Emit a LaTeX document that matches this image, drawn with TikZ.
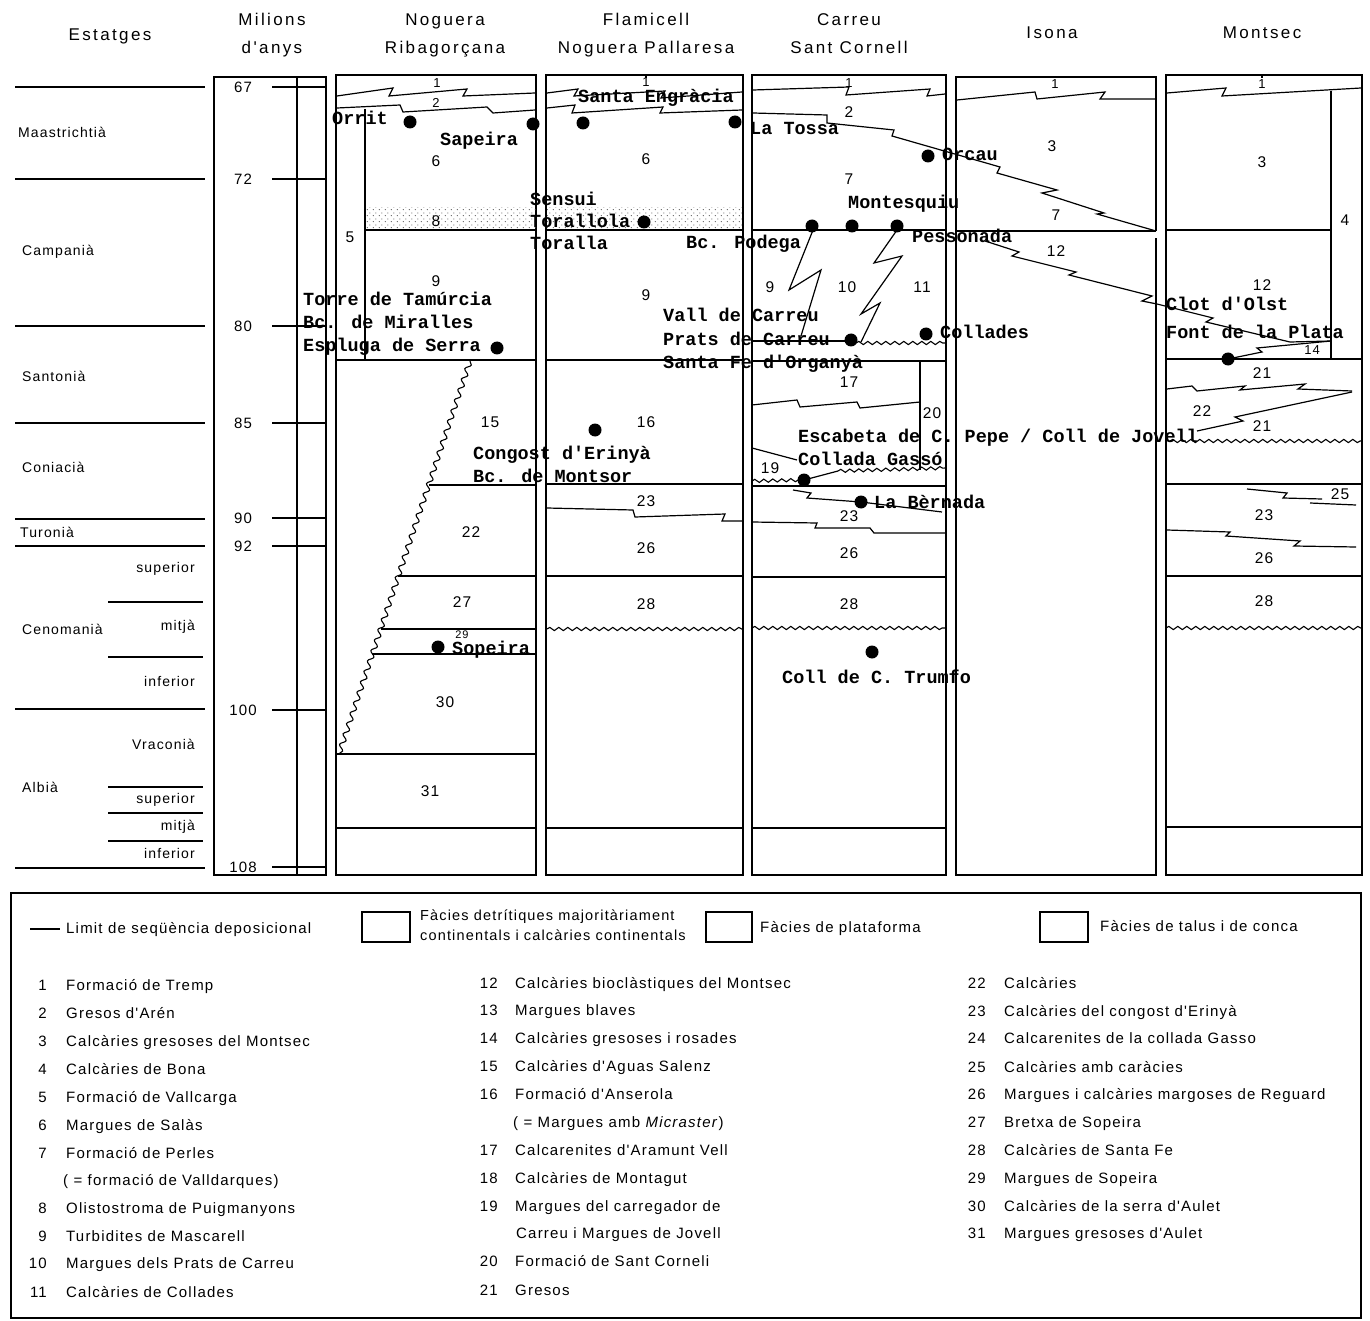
\documentclass[tikz,border=0pt]{standalone}
\usepackage{fontspec}
\setmainfont{Liberation Sans}
\newfontfamily\spc{Liberation Sans}[LetterSpace=8]
\newfontfamily\hsp{Liberation Sans}[LetterSpace=14]
\newfontfamily\mono{Liberation Mono}
\usetikzlibrary{patterns,decorations.pathmorphing}
\pgfdeclarepatternformonly{sdots}{\pgfpointorigin}{\pgfqpoint{6pt}{6pt}}{\pgfqpoint{6pt}{6pt}}{%
  \pgfpathcircle{\pgfqpoint{1.5pt}{1.5pt}}{0.65pt}%
  \pgfpathcircle{\pgfqpoint{4.5pt}{4.5pt}}{0.65pt}%
  \pgfusepath{fill}}
\tikzset{
  ln/.style={line width=1.2pt},
  bx/.style={line width=1.4pt},
  wavy/.style={line width=1.1pt, decorate, decoration={snake, segment length=9pt, amplitude=1.6pt}},
  bigwavy/.style={line width=1.1pt, decorate, decoration={snake, segment length=11pt, amplitude=2.5pt}},
  hdr/.style={font=\hsp\fontsize{17}{20}\selectfont, inner sep=0, text height=12pt, text depth=4pt},
  stg/.style={font=\spc\fontsize{14}{16}\selectfont, inner sep=0, text height=10pt, text depth=3pt},
  ma/.style={font=\spc\fontsize{15}{17}\selectfont, inner sep=0, text height=11pt, text depth=0pt},
  num/.style={font=\spc\fontsize{15.5}{17}\selectfont, inner sep=0, text height=11pt, text depth=0pt},
  snum/.style={font=\spc\fontsize{13}{14}\selectfont, inner sep=0, text height=9pt, text depth=0pt},
  tnum/.style={font=\spc\fontsize{11}{12}\selectfont, inner sep=0, text height=8pt, text depth=0pt},
  place/.style={font=\mono\bfseries\fontsize{18.5}{20}\selectfont, anchor=west, inner sep=0, text height=11pt, text depth=3pt},
  site/.style={circle, fill=black, inner sep=0, minimum size=13pt},
  leg/.style={font=\spc\fontsize{15}{17}\selectfont, anchor=west, inner sep=0, text height=11pt, text depth=3pt},
  legn/.style={leg, anchor=east},
  legs/.style={font=\spc\fontsize{14.5}{16}\selectfont, anchor=west, inner sep=0, text height=10pt, text depth=3pt},
}
\begin{document}
\begin{tikzpicture}[x=1pt,y=-1pt]
\useasboundingbox (0,0) rectangle (1370,1321);

% ---------------- headers
\node[hdr] (hEst) at (110,37) {Estatges};
\node[hdr] (hMa1) at (272,22) {Milions};
\node[hdr] (hMa2) at (272,50) {d'anys};
\node[hdr] (hNR1) at (445,22) {Noguera};
\node[hdr] (hNR2) at (445,50) {Ribagorçana};
\node[hdr] (hFl1) at (646,22) {Flamicell};
\node[hdr] (hFl2) at (646,50) {Noguera Pallaresa};
\node[hdr] (hCa1) at (849,22) {Carreu};
\node[hdr] (hCa2) at (849,50) {Sant Cornell};
\node[hdr] (hIs) at (1052,35) {Isona};
\node[hdr] (hMo) at (1262,35) {Montsec};

% ---------------- stages
\foreach \y in {87,179,326,423,519,546,709,868} \draw[ln] (15,\y) -- (205,\y);
\foreach \y in {602,657,787,813,841} \draw[ln] (108,\y) -- (203,\y);
\node[stg, anchor=west] (stA) at (18,134) {Maastrichtià};
\node[stg, anchor=west] (stB) at (22,252) {Campanià};
\node[stg, anchor=west] (stC) at (22,378) {Santonià};
\node[stg, anchor=west] (stD) at (22,469) {Coniacià};
\node[stg, anchor=west] (stE) at (20,534) {Turonià};
\node[stg, anchor=west] (stF) at (22,631) {Cenomanià};
\node[stg, anchor=west] (stG) at (22,789) {Albià};
\node[stg, anchor=east] (stH) at (195,569) {superior};
\node[stg, anchor=east] (stI) at (195,627) {mitjà};
\node[stg, anchor=east] (stJ) at (195,683) {inferior};
\node[stg, anchor=east] (stK) at (195,746) {Vraconià};
\node[stg, anchor=east] (stL) at (195,800) {superior};
\node[stg, anchor=east] (stM) at (195,827) {mitjà};
\node[stg, anchor=east] (stN) at (195,855) {inferior};

% ---------------- millions
\draw[bx] (214,77) rectangle (326,875);
\draw[ln] (297,77) -- (297,875);
\foreach \v/\y [count=\i] in {67/87,72/179,80/326,85/423,90/518,92/546,100/710,108/867}{
  \draw[ln] (272,\y) -- (326,\y);
  \node[ma] (ma\i) at (243,\y) {\v};
}

% ---------------- column boxes
\draw[bx] (336,75) rectangle (536,875);
\draw[bx] (546,75) rectangle (743,875);
\draw[bx] (752,75) rectangle (946,875);
\draw[bx] (1156,231) -- (1156,77) -- (956,77) -- (956,875) -- (1156,875) -- (1156,238);
\draw[bx] (1166,75) rectangle (1362,875);

% stipple (8)
\fill[pattern=sdots, pattern color=black!75] (365,208) rectangle (536,230);
\fill[pattern=sdots, pattern color=black!75] (547,208) rectangle (742,230);

% ---------------- Noguera Ribagorçana
\draw[ln] (337,96) -- (393,88) -- (389,96) -- (467,89) -- (463,96) -- (535,93);
\draw[ln] (337,108) -- (400,105) -- (403,112) -- (487,107) -- (493,113) -- (535,110);
\draw[ln] (365,109) -- (365,360);
\draw[ln] (365,230) -- (536,230);
\draw[ln] (336,360) -- (536,360);
\draw[bigwavy] (470,361) -- (339,754);
\draw[ln] (429,485) -- (536,485);
\draw[ln] (398,576) -- (536,576);
\draw[ln] (381,629) -- (536,629);
\draw[ln] (372,654) -- (536,654);
\draw[ln] (336,754) -- (536,754);
\draw[ln] (336,828) -- (536,828);

% ---------------- Flamicell
\draw[ln] (646,75) -- (646,78);
\draw[ln] (547,93) -- (578,89) -- (574,96) -- (665,91) -- (661,98) -- (742,92);
\draw[ln] (547,108) -- (575,105) -- (572,113) -- (663,107) -- (660,113) -- (742,110);
\draw[ln] (547,230) -- (742,230);
\draw[ln] (547,360) -- (742,360);
\draw[ln] (547,484) -- (742,484);
\draw[ln] (547,508) -- (633,510) -- (635,517) -- (725,514) -- (722,521) -- (742,521);
\draw[ln] (547,576) -- (742,576);
\draw[wavy] (547,629) -- (742,629);
\draw[ln] (547,828) -- (742,828);

% ---------------- Carreu
\draw[ln] (753,90) -- (849,87) -- (846,95) -- (930,89) -- (927,96) -- (945,94);
\draw[ln] (753,113) -- (827,115) -- (827,123) -- (894,130) -- (892,136) -- (1000,167) -- (997,173) -- (1057,190) -- (1042,193) -- (1104,213) -- (1097,214) -- (1156,231);
\draw[ln] (752,230) -- (946,230);
\draw[ln] (813,230) -- (789,290) -- (821,270) -- (801,336);
\draw[ln] (897,230) -- (874,263) -- (902,256) -- (861,314) -- (880,303) -- (861,342);
\draw[ln] (752,341) -- (852,341);
\draw[wavy] (856,343) -- (946,343);
\draw[ln] (752,361) -- (946,361);
\draw[ln] (920,361) -- (920,470);
\draw[ln] (752,405) -- (797,400) -- (800,407) -- (857,402) -- (860,408) -- (920,402);
\draw[ln] (752,448) -- (797,460);
\draw[ln] (804,480) -- (838,471);
\draw[wavy] (838,471) -- (946,468);
\draw[wavy] (752,481) -- (800,480);
\draw[ln] (752,486) -- (946,486);
\draw[ln] (793,490) -- (811,493) -- (807,498) -- (861,502) -- (942,512);
\draw[ln] (752,522) -- (817,523) -- (815,528) -- (870,528) -- (874,533) -- (946,533);
\draw[ln] (752,577) -- (946,577);
\draw[wavy] (752,628) -- (946,628);
\draw[ln] (752,828) -- (946,828);

% ---------------- Isona
\draw[ln] (957,100) -- (1035,92) -- (1037,99) -- (1105,92) -- (1100,99) -- (1155,99);
\draw[ln] (957,231) -- (1156,231);
\draw[ln] (985,241) -- (1019,252) -- (1012,256) -- (1076,272) -- (1069,275) -- (1152,296) -- (1142,301) -- (1157,304) -- (1213,318) -- (1206,322) -- (1290,342) -- (1331,341);

% ---------------- Montsec
\draw[ln] (1262,75) -- (1262,78);
\draw[ln] (1167,93) -- (1226,88) -- (1222,96) -- (1361,88);
\draw[ln] (1331,91) -- (1331,359);
\draw[ln] (1166,230) -- (1331,230);
\draw[ln] (1228,359) -- (1262,352) -- (1257,348) -- (1331,341);
\draw[ln] (1166,359) -- (1362,359);
\draw[ln] (1167,389) -- (1192,386) -- (1197,391) -- (1245,386) -- (1240,390) -- (1305,384) -- (1298,389) -- (1352,391);
\draw[ln] (1197,431) -- (1243,421) -- (1235,417) -- (1352,392);
\draw[wavy] (1170,441) -- (1362,441);
\draw[ln] (1166,484) -- (1362,484);
\draw[ln] (1247,489) -- (1287,493) -- (1283,498) -- (1322,499);
\draw[ln] (1310,503) -- (1356,505);
\draw[ln] (1167,530) -- (1230,532) -- (1226,536) -- (1300,541) -- (1294,546) -- (1356,547);
\draw[ln] (1166,576) -- (1362,576);
\draw[wavy] (1166,628) -- (1362,628);
\draw[ln] (1166,827) -- (1362,827);

% ---------------- unit numbers
\node[snum] (nA1) at (437,83) {1};
\node[snum] (nA2) at (436,103) {2};
\node[num] (nA6) at (436,161) {6};
\node[num] (nA8) at (436,221) {8};
\node[num] (nA5) at (350,237) {5};
\node[num] (nA9) at (436,281) {9};
\node[num] (nA15) at (490,422) {15};
\node[num] (nA22) at (471,532) {22};
\node[num] (nA27) at (462,602) {27};
\node[tnum] (nA29) at (462,634) {29};
\node[num] (nA30) at (445,702) {30};
\node[num] (nA31) at (430,791) {31};
\node[snum] (nB1) at (646,82) {1};
\node[num] (nB6) at (646,159) {6};
\node[num] (nB9) at (646,295) {9};
\node[num] (nB16) at (646,422) {16};
\node[num] (nB23) at (646,501) {23};
\node[num] (nB26) at (646,548) {26};
\node[num] (nB28) at (646,604) {28};
\node[snum] (nC1) at (849,83) {1};
\node[num] (nC2) at (849,112) {2};
\node[num] (nC7) at (849,179) {7};
\node[num] (nC9) at (770,287) {9};
\node[num] (nC10) at (847,287) {10};
\node[num] (nC11) at (922,287) {11};
\node[num] (nC17) at (849,382) {17};
\node[num] (nC20) at (932,413) {20};
\node[num] (nC19) at (770,468) {19};
\node[num] (nC23) at (849,516) {23};
\node[num] (nC26) at (849,553) {26};
\node[num] (nC28) at (849,604) {28};
\node[snum] (nD1) at (1055,84) {1};
\node[num] (nD3) at (1052,146) {3};
\node[num] (nD7) at (1056,215) {7};
\node[num] (nD12) at (1056,251) {12};
\node[snum] (nE1) at (1262,84) {1};
\node[num] (nE3) at (1262,162) {3};
\node[num] (nE4) at (1345,220) {4};
\node[num] (nE12) at (1262,285) {12};
\node[snum] (nE14) at (1312,350) {14};
\node[num] (nE21a) at (1262,373) {21};
\node[num] (nE22) at (1202,411) {22};
\node[num] (nE21b) at (1262,426) {21};
\node[num] (nE25) at (1340,494) {25};
\node[num] (nE23) at (1264,515) {23};
\node[num] (nE26) at (1264,558) {26};
\node[num] (nE28) at (1264,601) {28};

% ---------------- localities
\foreach \px/\py [count=\i] in {410/122,533/124,497/348,438/647,583/123,735/122,644/222,595/430,928/156,812/226,852/226,897/226,851/340,926/334,804/480,861/502,872/652,1228/359}
  \node[site] (site\i) at (\px,\py) {};
\node[place] (pOrrit) at (332,121) {Orrit};
\node[place] (pSapeira) at (440,142) {Sapeira};
\node[place] (pTorre) at (303,302) {Torre de Tamúrcia};
\node[place] (pMiral) at (303,325) {Bc. de Miralles};
\node[place] (pEspl) at (303,348) {Espluga de Serra};
\node[place] (pSopeira) at (452,650) {Sopeira};
\node[place] (pSEng) at (578,99) {Santa Engràcia};
\node[place] (pSensui) at (530,202) {Sensui};
\node[place] (pToral) at (530,224) {Torallola};
\node[place] (pToralla) at (530,246) {Toralla};
\node[place] (pPodega) at (686,245) {Bc. Podega};
\node[place] (pVall) at (663,318) {Vall de Carreu};
\node[place] (pPrats) at (663,341) {Prats de Carreu};
\node[place] (pSFe) at (663,364) {Santa Fe d'Organyà};
\node[place] (pCong) at (473,455) {Congost d'Erinyà};
\node[place] (pMonts) at (473,478) {Bc. de Montsor};
\node[place] (pTossa) at (750,131) {La Tossa};
\node[place] (pOrcau) at (942,157) {Orcau};
\node[place] (pMontq) at (848,205) {Montesquiu};
\node[place] (pPess) at (912,239) {Pessonada};
\node[place] (pColl) at (940,335) {Collades};
\node[place] (pEsca) at (798,438) {Escabeta de C. Pepe / Coll de Jovell};
\node[place] (pGasso) at (798,461) {Collada Gassó};
\node[place] (pBern) at (874,504) {La Bèrnada};
\node[place] (pTrumfo) at (782,679) {Coll de C. Trumfo};
\node[place] (pClot) at (1166,307) {Clot d'Olst};
\node[place] (pFont) at (1166,334) {Font de la Plata};

% ---------------- legend
\draw[bx] (11,893) rectangle (1361,1318);
\draw[ln] (30,929) -- (60,929);
\node[leg] (lgA) at (66,929) {Limit de seqüència deposicional};
\draw[ln] (362,912) rectangle (410,942);
\node[legs] (lgB1) at (420,917) {Fàcies detrítiques majoritàriament};
\node[legs] (lgB2) at (420,937) {continentals i calcàries continentals};
\draw[ln] (706,912) rectangle (752,942);
\node[leg] (lgC) at (760,928) {Fàcies de plataforma};
\draw[ln] (1040,912) rectangle (1088,942);
\node[leg] (lgD) at (1100,927) {Fàcies de talus i de conca};

\foreach \n/\t/\y [count=\i] in {1/Formació de Tremp/986, 2/Gresos d'Arén/1014, 3/Calcàries gresoses del Montsec/1042, 4/Calcàries de Bona/1070, 5/Formació de Vallcarga/1098, 6/Margues de Salàs/1126, 7/Formació de Perles/1154, 8/Olistostroma de Puigmanyons/1209, 9/Turbidites de Mascarell/1237, 10/Margues dels Prats de Carreu/1264, 11/Calcàries de Collades/1293}
  {\node[legn] (lgna\i) at (47,\y) {\n}; \node[leg] (lgta\i) at (66,\y) {\t};}
\node[leg] (lgta7b) at (63,1181) {( = formació de Valldarques)};

\foreach \n/\t/\y [count=\i] in {12/Calcàries bioclàstiques del Montsec/984, 13/Margues blaves/1011, 14/Calcàries gresoses i rosades/1039, 15/Calcàries d'Aguas Salenz/1067, 16/Formació d'Anserola/1095, 17/Calcarenites d'Aramunt Vell/1151, 18/Calcàries de Montagut/1179, 19/Margues del carregador de/1207, 20/Formació de Sant Corneli/1262, 21/Gresos/1291}
  {\node[legn] (lgnb\i) at (498,\y) {\n}; \node[leg] (lgtb\i) at (515,\y) {\t};}
\node[leg] (lgtb16b) at (513,1123) {( = Margues amb \textit{Micraster})};
\node[leg] (lgtb19b) at (516,1234) {Carreu i Margues de Jovell};

\foreach \n/\t/\y [count=\i] in {22/Calcàries/984, 23/Calcàries del congost d'Erinyà/1012, 24/Calcarenites de la collada Gasso/1039, 25/Calcàries amb caràcies/1068, 26/Margues i calcàries margoses de Reguard/1095, 27/Bretxa de Sopeira/1123, 28/Calcàries de Santa Fe/1151, 29/Margues de Sopeira/1179, 30/Calcàries de la serra d'Aulet/1207, 31/Margues gresoses d'Aulet/1234}
  {\node[legn] (lgnc\i) at (986,\y) {\n}; \node[leg] (lgtc\i) at (1004,\y) {\t};}

\end{tikzpicture}
\end{document}
